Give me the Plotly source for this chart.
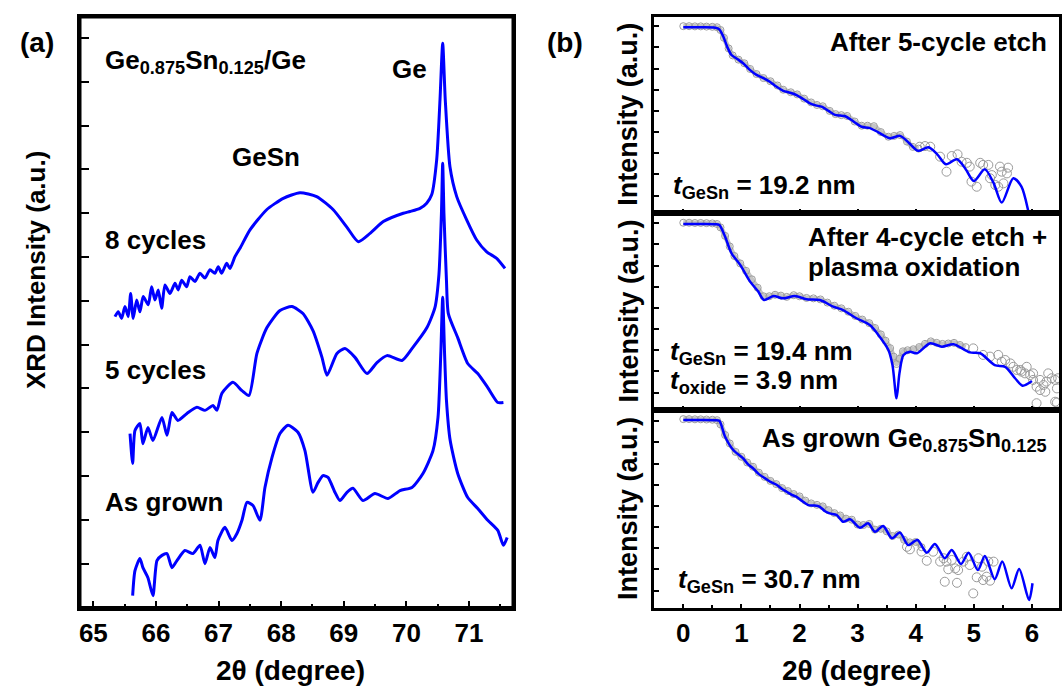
import plotly.graph_objects as go

# ---------------- Panel (a): XRD 2theta scans ----------------
xrd_8cyc_x = [65.345, 65.398, 65.452, 65.505, 65.558, 65.596, 65.637, 65.692, 65.744, 65.797,
              65.877, 65.931, 65.984, 66.037, 66.091, 66.144, 66.224, 66.304, 66.356, 66.411,
              66.490, 66.543, 66.623, 66.703, 66.783, 66.863, 66.942, 66.995, 67.050, 67.129,
              67.182, 67.262, 67.350, 67.502, 67.768, 68.034, 68.300, 68.567, 68.832, 69.046,
              69.232, 69.419, 69.631, 69.950, 70.058, 70.217, 70.324, 70.404, 70.484, 70.537,
              70.580, 70.621, 70.696, 70.804, 70.963, 71.123, 71.283, 71.442, 71.575]
xrd_8cyc_y = [6.64, 6.75, 6.60, 6.87, 6.64, 7.17, 6.60, 7.02, 6.75, 7.10,
              6.91, 7.32, 7.02, 7.25, 6.83, 7.36, 7.17, 7.40, 7.25, 7.47,
              7.32, 7.55, 7.44, 7.63, 7.52, 7.71, 7.63, 7.78, 7.63, 7.86,
              7.74, 8.01, 8.22, 8.62, 9.08, 9.34, 9.47, 9.38, 9.08, 8.69,
              8.35, 8.54, 8.81, 9.00, 9.04, 9.11, 9.23, 9.42, 10.22, 11.59,
              12.88, 11.59, 10.06, 9.38, 8.85, 8.39, 8.12, 7.97, 7.74]

xrd_5cyc_x = [65.586, 65.628, 65.665, 65.744, 65.792, 65.872, 65.952, 66.096, 66.176, 66.256,
              66.351, 66.495, 66.655, 66.783, 66.911, 66.974, 67.054, 67.230, 67.374, 67.486,
              67.613, 67.773, 67.981, 68.173, 68.348, 68.508, 68.652, 68.732, 68.891, 69.019,
              69.179, 69.371, 69.530, 69.690, 69.930, 70.089, 70.329, 70.457, 70.520, 70.560,
              70.580, 70.600, 70.640, 70.670, 70.820, 70.980, 71.140, 71.300, 71.460, 71.550]
xrd_5cyc_y = [3.97, 3.29, 4.04, 4.20, 3.74, 4.11, 3.81, 4.34, 3.93, 4.45,
              4.27, 4.43, 4.57, 4.50, 4.61, 4.50, 4.89, 5.14, 4.95, 4.84,
              5.80, 6.39, 6.78, 6.87, 6.71, 6.32, 5.71, 5.30, 5.80, 5.91,
              5.71, 5.34, 5.59, 5.75, 5.64, 5.91, 6.39, 6.85, 7.60, 9.00,
              10.14, 9.00, 7.47, 6.71, 6.16, 5.57, 5.34, 5.02, 4.68, 4.68]

xrd_grown_x = [65.628, 65.665, 65.744, 65.792, 65.872, 65.952, 66.016, 66.096, 66.176, 66.256,
               66.335, 66.463, 66.591, 66.703, 66.783, 66.863, 66.942, 66.990, 67.102, 67.214,
               67.294, 67.374, 67.454, 67.550, 67.661, 67.741, 67.853, 67.981, 68.109, 68.268,
               68.380, 68.508, 68.588, 68.668, 68.748, 68.859, 68.939, 69.051, 69.147, 69.307,
               69.498, 69.706, 69.898, 70.089, 70.265, 70.425, 70.505, 70.550, 70.580, 70.610,
               70.640, 70.700, 70.820, 70.980, 71.140, 71.300, 71.460, 71.550, 71.610]
xrd_grown_y = [0.27, 0.84, 1.12, 0.91, 0.68, 0.27, 1.07, 1.19, 1.23, 0.91,
               1.07, 1.30, 1.23, 1.42, 1.00, 1.37, 1.14, 1.53, 1.83, 1.53,
               1.69, 1.99, 2.40, 2.33, 1.99, 2.74, 3.42, 3.97, 4.16, 4.00,
               3.58, 2.63, 2.85, 3.01, 2.97, 2.63, 2.44, 2.63, 2.72, 2.44,
               2.60, 2.49, 2.67, 2.74, 3.06, 3.58, 4.34, 5.80, 7.08, 5.80,
               4.73, 3.81, 3.06, 2.51, 2.26, 1.99, 1.76, 1.42, 1.60]

xrd_ticks = [65, 66, 67, 68, 69, 70, 71]

# ---------------- Panel (b): XRR scans ----------------
# top: after 5-cycle etch
xrr5_fit_x = [0.00, 0.30, 0.55, 0.62, 0.69, 0.76, 0.83, 0.93, 1.03, 1.14, 1.26, 1.38, 1.49, 1.60,
              1.72, 1.84, 1.95, 2.07, 2.18, 2.28, 2.38, 2.50, 2.61, 2.70, 2.78, 2.93, 3.07, 3.20,
              3.35, 3.56, 3.73, 3.88, 4.04, 4.22, 4.37, 4.52, 4.71, 4.86, 5.00, 5.19, 5.34, 5.48,
              5.68, 5.82, 5.94, 6.00]
xrr5_fit_y = [7.95, 7.95, 7.93, 7.85, 7.50, 7.00, 6.64, 6.45, 6.25, 5.95, 5.70, 5.55, 5.38, 5.15,
              4.95, 4.86, 4.75, 4.55, 4.36, 4.26, 4.20, 4.00, 3.81, 3.78, 3.76, 3.50, 3.25, 3.20,
              3.00, 2.71, 2.82, 2.50, 2.12, 2.28, 1.95, 1.48, 1.72, 1.25, 0.69, 1.24, 0.60, -0.33,
              0.82, 0.42, -0.76, -1.60]
xrr5_meas_x = [0.00, 0.10, 0.20, 0.30, 0.40, 0.50, 0.58, 0.64, 0.70, 0.78, 0.85, 0.95, 1.05, 1.15,
               1.26, 1.38, 1.50, 1.62, 1.72, 1.85, 1.96, 2.08, 2.20, 2.30, 2.40, 2.52, 2.62, 2.72,
               2.82, 2.95, 3.07, 3.17, 3.28, 3.40, 3.53, 3.63, 3.73, 3.85, 3.95, 4.05]
xrr5_meas_y = [8.00, 8.00, 7.99, 7.99, 7.98, 7.97, 7.95, 7.82, 7.45, 6.95, 6.62, 6.42, 6.25, 5.98,
               5.74, 5.55, 5.40, 5.20, 5.00, 4.88, 4.78, 4.58, 4.40, 4.28, 4.22, 4.00, 3.85, 3.80,
               3.76, 3.50, 3.30, 3.30, 3.28, 3.00, 2.78, 2.82, 2.86, 2.55, 2.30, 2.22]
xrr5_pts_x = [4.07, 4.16, 4.25, 4.42, 4.53, 4.62, 4.72, 4.79, 4.88, 4.93, 5.05, 5.11, 5.16, 5.25,
              5.28, 5.31, 5.37, 5.42, 5.45, 5.48, 5.57, 5.59, 5.51, 4.96]
xrr5_pts_y = [2.31, 2.34, 2.31, 1.84, 1.13, 1.87, 1.95, 1.60, 1.55, 1.37, 0.42, 1.55, 1.45, 1.45,
              0.82, 0.97, 0.50, 0.42, 1.37, 1.13, 1.05, 1.32, 0.58, 0.66]

# middle: after 4-cycle etch + plasma oxidation
xrr4_fit_x = [0.00, 0.30, 0.55, 0.62, 0.72, 0.83, 0.98, 1.15, 1.29, 1.39, 1.55, 1.72, 1.92, 2.12,
              2.35, 2.58, 2.75, 2.98, 3.21, 3.38, 3.53, 3.60, 3.67, 3.72, 3.79, 3.90, 4.02, 4.25,
              4.45, 4.65, 4.93, 5.11, 5.36, 5.54, 5.71, 5.84, 6.00]
xrr4_fit_y = [7.96, 7.96, 7.95, 7.91, 7.36, 6.58, 6.03, 5.24, 4.77, 4.37, 4.56, 4.45, 4.56, 4.41,
              4.37, 4.06, 3.90, 3.51, 3.19, 2.64, 2.01, 1.30, -0.27, 0.91, 1.78, 1.93, 1.86, 2.33,
              2.17, 2.28, 1.90, 1.86, 1.30, 1.22, 0.68, 0.33, 0.55]
xrr4_meas_x = [0.00, 0.10, 0.20, 0.30, 0.40, 0.50, 0.58, 0.64, 0.72, 0.80, 0.88, 0.98, 1.08, 1.18,
               1.28, 1.38, 1.48, 1.58, 1.68, 1.78, 1.90, 2.00, 2.12, 2.24, 2.36, 2.48, 2.60, 2.72,
               2.84, 2.96, 3.08, 3.20, 3.30, 3.40, 3.48, 3.56, 3.62, 3.67, 3.72, 3.78, 3.86, 3.96,
               4.06, 4.16, 4.26, 4.36, 4.46, 4.56, 4.66, 4.76, 4.86]
xrr4_meas_y = [8.02, 8.02, 8.01, 8.01, 8.00, 7.99, 7.96, 7.80, 7.40, 6.90, 6.45, 6.10, 5.75, 5.35,
               4.95, 4.55, 4.55, 4.62, 4.58, 4.52, 4.60, 4.55, 4.47, 4.45, 4.40, 4.25, 4.10, 3.98,
               3.82, 3.62, 3.45, 3.28, 3.05, 2.75, 2.45, 2.10, 1.70, 1.35, 1.60, 1.95, 2.00, 2.05,
               2.15, 2.30, 2.42, 2.35, 2.30, 2.32, 2.35, 2.25, 2.15]
xrr4_pts_x = [4.99, 5.16, 5.28, 5.42, 5.48, 5.54, 5.63, 5.68, 5.74, 5.82, 5.88, 5.97, 6.02, 6.08,
              6.14, 6.20, 6.25, 6.28, 6.34, 6.40, 6.43, 6.45, 6.14, 6.23, 6.08, 6.40, 6.43, 5.80,
              5.91, 6.02]
xrr4_pts_y = [2.09, 1.78, 1.70, 1.78, 1.46, 1.54, 1.38, 1.22, 1.07, 0.99, 0.91, 0.83, 0.60, 0.28,
              0.12, 0.36, 0.52, 0.91, 0.68, 0.60, 0.20, 0.68, 0.60, 0.04, -0.50, -0.43, -0.47, 1.07,
              1.22, 0.91]

# bottom: as grown Ge0.875Sn0.125
xrr0_fit_x = [0.00, 0.30, 0.55, 0.62, 0.72, 0.86, 1.03, 1.12, 1.20, 1.30, 1.41, 1.51, 1.61, 1.70,
              1.78, 1.87, 1.95, 2.05, 2.15, 2.25, 2.35, 2.44, 2.52, 2.64, 2.75, 2.87, 3.04, 3.18,
              3.30, 3.44, 3.59, 3.73, 3.87, 4.03, 4.19, 4.33, 4.50, 4.62, 4.78, 4.91, 5.07, 5.19,
              5.36, 5.49, 5.65, 5.78, 5.95, 6.01]
xrr0_fit_y = [8.06, 8.06, 8.05, 8.02, 7.27, 6.64, 6.25, 5.95, 5.78, 5.50, 5.30, 5.12, 4.99, 4.80,
              4.67, 4.52, 4.43, 4.22, 4.04, 4.02, 3.96, 3.75, 3.65, 3.57, 3.25, 3.37, 2.97, 3.18,
              2.78, 3.05, 2.47, 2.74, 2.15, 2.39, 1.79, 2.20, 1.53, 1.92, 1.26, 1.79, 0.97, 1.64,
              0.54, 1.37, 0.11, 1.02, -0.44, 0.35]
xrr0_meas_x = [0.00, 0.10, 0.20, 0.30, 0.40, 0.50, 0.58, 0.64, 0.72, 0.80, 0.90, 1.00, 1.10, 1.20,
               1.30, 1.40, 1.50, 1.60, 1.70, 1.80, 1.90, 2.00, 2.10, 2.20, 2.30, 2.40, 2.50, 2.60,
               2.70, 2.80, 2.90, 3.00, 3.10, 3.20, 3.30, 3.40, 3.50, 3.60, 3.70, 3.80, 3.90, 4.00,
               4.10]
xrr0_meas_y = [8.10, 8.10, 8.09, 8.09, 8.08, 8.07, 8.05, 7.85, 7.35, 6.95, 6.55, 6.32, 6.05, 5.85,
               5.57, 5.37, 5.18, 5.03, 4.84, 4.70, 4.56, 4.45, 4.25, 4.12, 4.05, 3.98, 3.80, 3.66,
               3.55, 3.40, 3.35, 3.12, 3.10, 3.15, 2.88, 2.92, 2.80, 2.58, 2.65, 2.40, 2.28, 2.30,
               2.05]
xrr0_pts_x = [3.85, 3.90, 4.10, 4.19, 4.30, 4.42, 4.48, 4.50, 4.53, 4.56, 4.62, 4.68, 4.71, 4.73,
              4.88, 4.99, 5.05, 5.08, 5.14, 5.16, 5.22, 5.25, 5.28, 5.34, 4.93, 4.82]
xrr0_pts_y = [2.07, 1.95, 1.84, 1.41, 1.84, 1.37, 1.53, 0.42, 1.37, 1.01, 1.45, 1.05, 0.37, 0.97,
              1.60, -0.13, 0.63, 1.53, 1.13, 0.50, 0.66, 1.37, 0.47, 1.37, 1.21, 1.37]

xrr_ticks = [0, 1, 2, 3, 4, 5, 6]

# ---------------- Figure ----------------
W, H = 1062, 689
FONT = "Liberation Sans, Arial, sans-serif"
BLUE = "#0000ff"


def fx(p):
    return p / W


def fy(p):
    return 1 - p / H


fig = go.Figure()

for xs, ys in [(xrd_8cyc_x, xrd_8cyc_y), (xrd_5cyc_x, xrd_5cyc_y), (xrd_grown_x, xrd_grown_y)]:
    fig.add_trace(go.Scatter(x=xs, y=ys, mode="lines", xaxis="x", yaxis="y",
                             line=dict(color=BLUE, width=3, shape="spline", smoothing=0.6)))

panels = [
    ("x2", "y2", xrr5_meas_x, xrr5_meas_y, xrr5_pts_x, xrr5_pts_y, xrr5_fit_x, xrr5_fit_y),
    ("x3", "y3", xrr4_meas_x, xrr4_meas_y, xrr4_pts_x, xrr4_pts_y, xrr4_fit_x, xrr4_fit_y),
    ("x4", "y4", xrr0_meas_x, xrr0_meas_y, xrr0_pts_x, xrr0_pts_y, xrr0_fit_x, xrr0_fit_y),
]
for xa, ya, mx, my, px_, py_, fxs, fys in panels:
    fig.add_trace(go.Scatter(x=mx, y=my, mode="lines+markers", xaxis=xa, yaxis=ya,
                             line=dict(color="#c4c4c4", width=5, shape="spline"),
                             marker=dict(symbol="circle-open", size=7, color="#9c9c9c",
                                         line=dict(width=1))))
    fig.add_trace(go.Scatter(x=px_, y=py_, mode="markers", xaxis=xa, yaxis=ya,
                             marker=dict(symbol="circle-open", size=9, color="#9a9a9a",
                                         line=dict(width=1))))
    fig.add_trace(go.Scatter(x=fxs, y=fys, mode="lines", xaxis=xa, yaxis=ya,
                             line=dict(color=BLUE, width=2.5, shape="spline", smoothing=0.8)))

axis_common = dict(showline=True, linecolor="black", mirror=True, showgrid=False,
                   zeroline=False, ticks="inside", tickcolor="black")
tickfont = dict(family=FONT, size=26, color="black", weight="bold")

fig.update_layout(
    width=W, height=H, margin=dict(l=0, r=0, t=0, b=0, pad=0),
    paper_bgcolor="white", plot_bgcolor="white", showlegend=False,
    font=dict(family=FONT, color="black"),
    xaxis=dict(domain=[fx(80), fx(513)], range=[64.787, 71.703], anchor="y",
               tickvals=xrd_ticks, ticklen=7, tickwidth=2, linewidth=3,
               minor=dict(dtick=0.5, tick0=65, ticks="inside", ticklen=4, tickwidth=1.5,
                          tickcolor="black"),
               tickfont=tickfont, ticklabelstandoff=0, **axis_common),
    yaxis=dict(domain=[fy(607.5), fy(17)], range=[0, 13.48], anchor="x",
               dtick=1, tick0=0, ticklen=9, tickwidth=1.5, linewidth=3,
               showticklabels=False, **axis_common),
)
# frame of panel (a)
fig.add_shape(type="rect", xref="x domain", yref="y domain", x0=0, x1=1, y0=0, y1=1,
              line=dict(color="black", width=3), layer="above")

ydoms = [(16.5, 213), (213, 410), (410, 608)]
yranges = [[-0.82, 8.457], [-0.82, 8.48], [-0.82, 8.53]]
for i, (top, bot) in enumerate(ydoms):
    n = i + 2
    fig.layout[f"xaxis{n}"] = dict(domain=[fx(654), fx(1059)], range=[-0.504, 6.466],
                                   anchor=f"y{n}", tickvals=xrr_ticks, ticklen=4, tickwidth=2,
                                   linewidth=3,
                                   minor=dict(dtick=0.5, tick0=0, ticks="inside", ticklen=3,
                                              tickwidth=1.5, tickcolor="black"),
                                   showticklabels=(n == 4), tickfont=tickfont,
                                   ticklabelstandoff=0, **axis_common)
    fig.layout[f"yaxis{n}"] = dict(domain=[fy(bot), fy(top)], range=yranges[i],
                                   anchor=f"x{n}", dtick=1, tick0=0, ticklen=5, tickwidth=1.5,
                                   linewidth=3, showticklabels=False, **axis_common)


def note(text, x, y, size=26, xanchor="left", yanchor="middle", angle=0):
    fig.add_annotation(text=text, x=fx(x), y=fy(y), xref="paper", yref="paper",
                       xanchor=xanchor, yanchor=yanchor, showarrow=False, textangle=angle,
                       font=dict(family=FONT, size=size, color="black"))


note("<b>(a)</b>", 37, 42, size=28, xanchor="center")
note("<b>(b)</b>", 565, 42, size=28, xanchor="center")
note("<b>XRD Intensity (a.u.)</b>", 36, 270, size=26, xanchor="center", angle=-90)
note("<b>2θ (degree)</b>", 291, 670, size=28, xanchor="center")
note("<b>2θ (degree)</b>", 856, 670, size=28, xanchor="center")
for yc in [114.75, 311.5, 509]:
    note("<b>Intensity (a.u.)</b>", 628, yc, size=27, xanchor="center", angle=-90)

note("<b>Ge<sub>0.875</sub>Sn<sub>0.125</sub>/Ge</b>", 103, 62)
note("<b>Ge</b>", 409, 69, xanchor="center")
note("<b>GeSn</b>", 266, 157, xanchor="center")
note("<b>8 cycles</b>", 103, 240)
note("<b>5 cycles</b>", 103, 370)
note("<b>As grown</b>", 103, 502)

note("<b>After 5-cycle etch</b>", 1049, 42, xanchor="right")
note("<b><i>t</i><sub>GeSn</sub> = 19.2 nm</b>", 671, 186)
note("<b>After 4-cycle etch +</b>", 806, 237)
note("<b>plasma oxidation</b>", 806, 267)
note("<b><i>t</i><sub>GeSn</sub> = 19.4 nm</b>", 668, 352)
note("<b><i>t</i><sub>oxide</sub> = 3.9 nm</b>", 668, 381)
note("<b>As grown Ge<sub>0.875</sub>Sn<sub>0.125</sub></b>", 1049, 439, xanchor="right")
note("<b><i>t</i><sub>GeSn</sub> = 30.7 nm</b>", 676, 580)

# the page's default 8 px body margin would push the figure out of the window
fig.write_html("out.html", config={"displayModeBar": False},
               post_script="document.body.style.margin='0';document.body.style.overflow='hidden';")
